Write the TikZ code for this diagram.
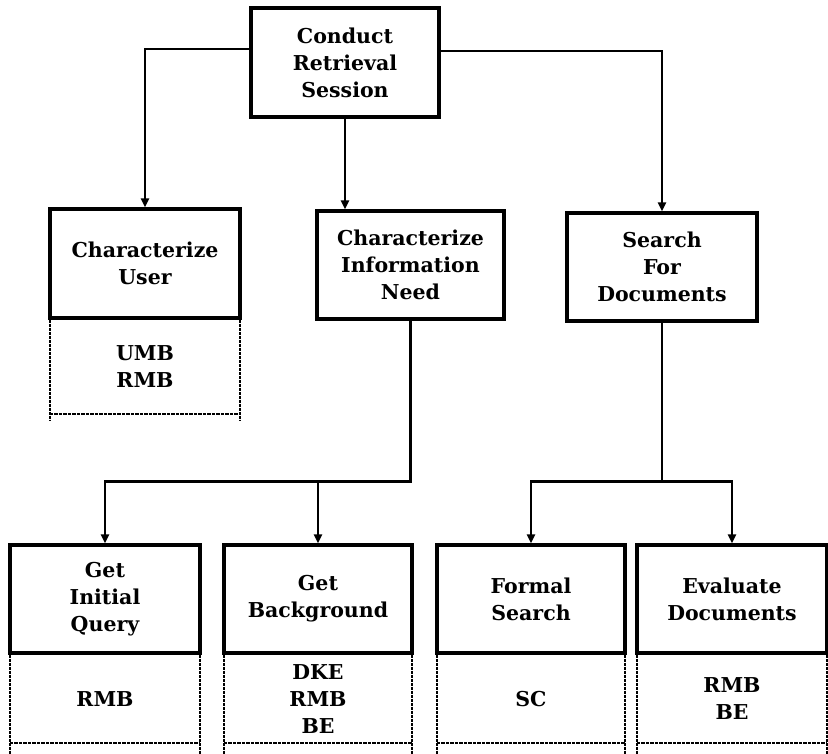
\documentclass[tikz,border=0pt]{standalone}
\usepackage{fontspec}
\setmainfont{DejaVu Serif}
\usetikzlibrary{arrows.meta}
\begin{document}
\begin{tikzpicture}[x=1pt,y=-1pt,
  every node/.style={font=\bfseries\fontsize{20.5}{27}\selectfont, align=center, inner sep=0pt},
  task/.style={draw, line width=3.2pt, minimum width=188pt, minimum height=108pt},
  resource/.style={minimum width=188pt, minimum height=88pt},
  link/.style={line width=2.9pt},
  arr/.style={link, -{Triangle[length=9pt,width=8pt]}},
  rim/.style={line width=2pt, dash pattern=on 3pt off 1pt},
  rimbase/.style={line width=2.8pt, dash pattern=on 3.5pt off 1pt}
]
\useasboundingbox (0,0) rectangle (828,753);

% activity boxes
\node[task, minimum width=188pt, minimum height=109pt] (crs) at (345,62.5) {Conduct\\Retrieval\\Session};
\node[task, minimum width=190pt, minimum height=109pt] (cu)  at (145,263.5) {Characterize\\User};
\node[task, minimum width=187pt] (cin) at (410.5,265) {Characterize\\Information\\Need};
\node[task, minimum width=190pt] (sfd) at (662,267) {Search\\For\\Documents};
\node[task, minimum width=190pt] (giq) at (105,599) {Get\\Initial\\Query};
\node[task, minimum width=188pt] (gb)  at (318,599) {Get\\Background};
\node[task, minimum width=188pt] (fs)  at (531,599) {Formal\\Search};
\node[task, minimum width=190pt] (ed)  at (732,599) {Evaluate\\Documents};

% resource sections below the boxes
\node[resource, minimum width=190pt, minimum height=94pt, anchor=north] (cur) at (cu.south)  {UMB\\RMB};
\node[resource, minimum width=190pt, anchor=north] (giqr) at (giq.south) {RMB};
\node[resource, anchor=north] (gbr) at (gb.south) {DKE\\RMB\\BE};
\node[resource, anchor=north] (fsr) at (fs.south) {SC};
\node[resource, minimum width=190pt, anchor=north] (edr) at (ed.south) {RMB\\BE};

\foreach \r/\ext in {cur/6, giqr/12, gbr/12, fsr/12, edr/12}{
  \draw[rim] (\r.north west) -- ([yshift=-\ext pt]\r.south west);
  \draw[rim] (\r.north east) -- ([yshift=-\ext pt]\r.south east);
  \draw[rimbase] (\r.south west) -- (\r.south east);
}

% connectors
\draw[arr] ([yshift=13.5pt]crs.west) -| (cu.north);
\draw[arr] ([yshift=11.5pt]crs.east) -| (sfd.north);
\draw[arr] (crs.south) -- (crs.south |- cin.north);

\coordinate (jl) at ([yshift=-161pt]cin.south);
\draw[arr] (cin.south) |- (giq.north |- jl) -- (giq.north);
\draw[arr] (gb.north |- jl) -- (gb.north);

\coordinate (jr) at ([yshift=-159pt]sfd.south);
\draw[link] (sfd.south) -- (jr);
\draw[arr] (jr) -| (fs.north);
\draw[arr] (jr) -| (ed.north);
\end{tikzpicture}
\end{document}
